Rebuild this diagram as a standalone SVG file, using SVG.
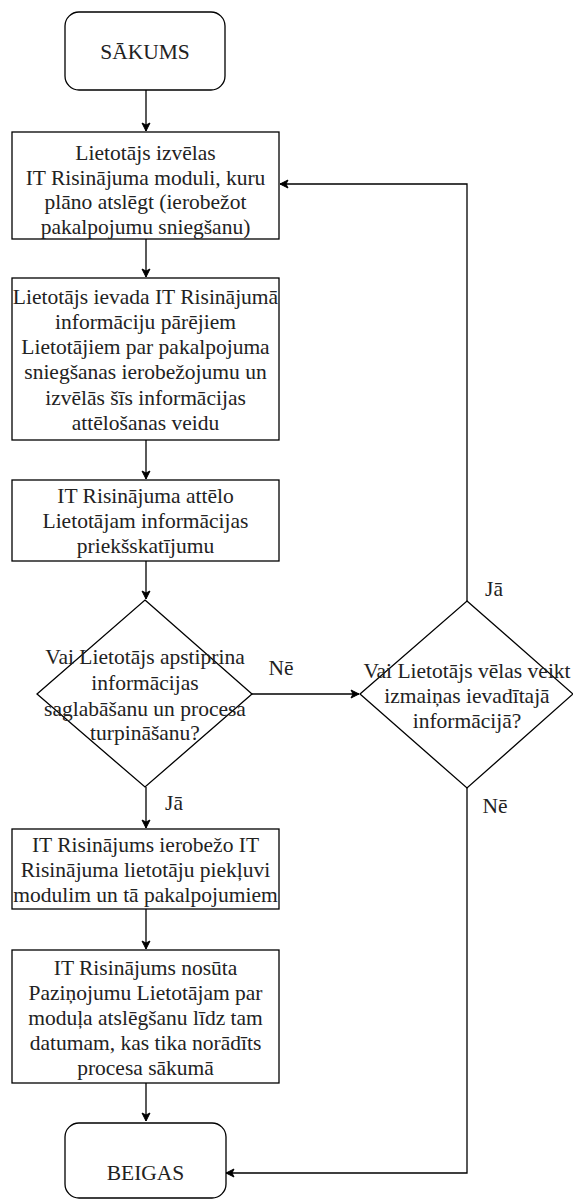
<svg xmlns="http://www.w3.org/2000/svg" width="573" height="1200" viewBox="0 0 573 1200">
<defs>
<marker id="arr" markerWidth="10" markerHeight="10" refX="9" refY="5" orient="auto" markerUnits="userSpaceOnUse">
<path d="M1,1 L9,5 L1,9 L3,5 Z" fill="#000" stroke="#000" stroke-width="1"/>
</marker>
</defs>
<style>
.n{fill:#fff;stroke:#000;stroke-width:1.3}
.t{font-family:'Liberation Serif','Times New Roman',Times,serif;font-size:21.5px;fill:#222;text-anchor:middle}
.c{fill:none;stroke:#000;stroke-width:1.3;marker-end:url(#arr)}
</style>
<rect width="573" height="1200" fill="#fff"/>
<g id="connectors">
<path class="c" d="M146,90 V131"/>
<path class="c" d="M146,239 V277"/>
<path class="c" d="M146,440 V479"/>
<path class="c" d="M146,561 V599"/>
<path class="c" d="M146,787 V828"/>
<path class="c" d="M146,909 V949"/>
<path class="c" d="M146,1083 V1121"/>
<path class="c" d="M252,694 H359"/>
<path class="c" d="M467,601 V184 H280"/>
<path class="c" d="M467,788 V1173 H226"/>
<text class="t" x="281" y="675">Nē</text>
<text class="t" x="174" y="810">Jā</text>
<text class="t" x="494" y="596">Jā</text>
<text class="t" x="495" y="813">Nē</text>
</g>
<g id="start">
<rect class="n" x="65" y="12" width="160" height="78" rx="14"/>
<text class="t" x="145" y="59">SĀKUMS</text>
</g>
<g id="step1">
<rect class="n" x="12" y="132" width="267" height="107"/>
<text class="t" x="145.5" y="160">Lietotājs izvēlas</text>
<text class="t" x="145.5" y="185">IT Risinājuma moduli, kuru</text>
<text class="t" x="145.5" y="209">plāno atslēgt (ierobežot</text>
<text class="t" x="145.5" y="234">pakalpojumu sniegšanu)</text>
</g>
<g id="step2">
<rect class="n" x="12" y="278" width="267" height="162"/>
<text class="t" x="145.5" y="304">Lietotājs ievada IT Risinājumā</text>
<text class="t" x="145.5" y="329">informāciju pārējiem</text>
<text class="t" x="145.5" y="354">Lietotājiem par pakalpojuma</text>
<text class="t" x="145.5" y="379">sniegšanas ierobežojumu un</text>
<text class="t" x="145.5" y="405">izvēlās šīs informācijas</text>
<text class="t" x="145.5" y="430">attēlošanas veidu</text>
</g>
<g id="step3">
<rect class="n" x="12" y="480" width="267" height="81"/>
<text class="t" x="145.5" y="503">IT Risinājuma attēlo</text>
<text class="t" x="145.5" y="528">Lietotājam informācijas</text>
<text class="t" x="145.5" y="553">priekšskatījumu</text>
</g>
<g id="decision1">
<path class="n" d="M145,600 L252,694 L145,787 L37,694 Z"/>
<text class="t" x="145" y="664">Vai Lietotājs apstiprina</text>
<text class="t" x="145" y="690">informācijas</text>
<text class="t" x="145" y="716">saglabāšanu un procesa</text>
<text class="t" x="145" y="740">turpināšanu?</text>
</g>
<g id="decision2">
<path class="n" d="M467,601 L573,694 L467,788 L360,694 Z"/>
<text class="t" x="467" y="678">Vai Lietotājs vēlas veikt</text>
<text class="t" x="467" y="703">izmaiņas ievadītajā</text>
<text class="t" x="467" y="728">informācijā?</text>
</g>
<g id="step4">
<rect class="n" x="12" y="829" width="267" height="80"/>
<text class="t" x="145.5" y="852">IT Risinājums ierobežo IT</text>
<text class="t" x="145.5" y="877">Risinājuma lietotāju piekļuvi</text>
<text class="t" x="145.5" y="902">modulim un tā pakalpojumiem</text>
</g>
<g id="step5">
<rect class="n" x="12" y="950" width="267" height="133"/>
<text class="t" x="145.5" y="975">IT Risinājums nosūta</text>
<text class="t" x="145.5" y="1000">Paziņojumu Lietotājam par</text>
<text class="t" x="145.5" y="1025">moduļa atslēgšanu līdz tam</text>
<text class="t" x="145.5" y="1050">datumam, kas tika norādīts</text>
<text class="t" x="145.5" y="1075">procesa sākumā</text>
</g>
<g id="end">
<rect class="n" x="65" y="1123" width="161" height="75" rx="14"/>
<text class="t" x="145.5" y="1180">BEIGAS</text>
</g>
</svg>
